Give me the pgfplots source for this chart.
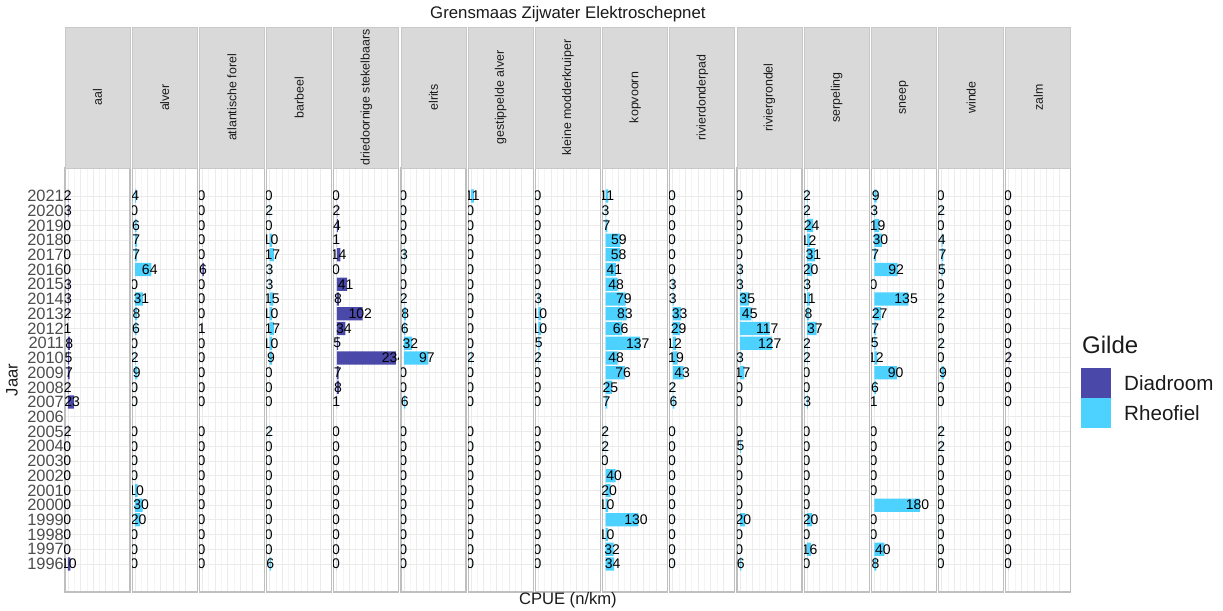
\documentclass[border=0pt]{standalone}
\usepackage{fontspec}
\setmainfont{Liberation Sans}
\usepackage{pgfplots}
\usepackage{pgfplotstable}
\pgfplotsset{compat=1.18}
\usepgfplotslibrary{groupplots}
\usetikzlibrary{calc}
\definecolor{diad}{HTML}{4A48A8}
\definecolor{rheo}{HTML}{4DD2FF}
\definecolor{gmaj}{HTML}{EBEBEB}
\definecolor{gmin}{HTML}{F5F5F5}
\definecolor{pborder}{HTML}{BFBFBF}
\definecolor{stripfill}{HTML}{D9D9D9}
\definecolor{stripline}{HTML}{C8C8C8}
\definecolor{txt}{HTML}{1A1A1A}
\definecolor{ticktxt}{HTML}{4D4D4D}

% CPUE (n/km) per jaar en soort; 2006 ontbreekt
\pgfplotstableread{
year aal alver forel barbeel dried elrits gestip kleine kopvoorn donderpad grondel serpeling sneep winde zalm
2021 2 4 0 0 0 0 11 0 11 0 0 2 9 0 0
2020 3 0 0 2 2 0 0 0 3 0 0 2 3 2 0
2019 0 6 0 0 4 0 0 0 7 0 0 24 19 0 0
2018 0 7 0 10 1 0 0 0 59 0 0 12 30 4 0
2017 0 7 0 17 14 3 0 0 58 0 0 31 7 7 0
2016 0 64 6 3 0 0 0 0 41 0 3 20 92 5 0
2015 3 0 0 3 41 0 0 0 48 3 3 3 0 0 0
2014 3 31 0 15 8 2 0 3 79 3 35 11 135 2 0
2013 2 8 0 10 102 8 0 10 83 33 45 8 27 2 0
2012 1 6 1 17 34 6 0 10 66 29 117 37 7 0 0
2011 8 0 0 10 5 32 0 5 137 12 127 2 5 2 0
2010 5 2 0 9 234 97 2 2 48 19 3 2 12 0 2
2009 7 9 0 0 7 0 0 0 76 43 17 0 90 9 0
2008 2 0 0 0 8 0 0 0 25 2 0 0 6 0 0
2007 23 0 0 0 1 6 0 0 7 6 0 3 1 0 0
2005 2 0 0 2 0 0 0 0 2 0 0 0 0 2 0
2004 0 0 0 0 0 0 0 0 2 0 5 0 0 2 0
2003 0 0 0 0 0 0 0 0 0 0 0 0 0 0 0
2002 0 0 0 0 0 0 0 0 40 0 0 0 0 0 0
2001 0 10 0 0 0 0 0 0 20 0 0 0 0 0 0
2000 0 30 0 0 0 0 0 0 10 0 0 0 180 0 0
1999 0 20 0 0 0 0 0 0 130 0 20 20 0 0 0
1998 0 0 0 0 0 0 0 0 10 0 0 0 0 0 0
1997 0 0 0 0 0 0 0 0 32 0 0 16 40 0 0
1996 10 0 0 6 0 0 0 0 34 0 6 0 8 0 0
}\cpue

% label centred a little left of the bar end (hjust about 0.6)
\newcommand\cpuelabel[1]{\setbox0\hbox{#1}\hspace*{-0.2\wd0}\box0}

\begin{document}
\begin{tikzpicture}
\begin{groupplot}[
  group style={group size=15 by 1, horizontal sep=1.1pt, yticklabels at=edge left},
  scale only axis, width=32.5pt, height=212pt,
  xmin=-11.7, xmax=245.7, ymin=1994.1, ymax=2022.9,
  xtick={0,50,100,150,200}, xticklabels={}, minor x tick num=1,
  ytick={1996,...,2021}, minor y tick num=1,
  grid=both,
  major grid style={draw=gmaj, line width=0.45pt},
  minor grid style={draw=gmin, line width=0.3pt},
  major tick length=0pt, minor tick length=0pt,
  axis line style={draw=pborder, line width=0.6pt},
  /pgf/number format/1000 sep={},
  /pgf/number format/assume math mode=true,
  yticklabel style={font=\fontsize{8.2}{8.2}\selectfont, text=ticktxt, inner xsep=0.4pt},
  xbar, /pgf/bar width=0.9, point meta=x,
  clip marker paths=true,
  nodes near coords={\cpuelabel{\pgfmathprintnumber{\pgfplotspointmeta}}},
  nodes near coords align=center,
  every node near coord/.append style={font=\fontsize{7}{7}\selectfont, text=black,
    anchor=center, inner sep=0pt},
]
\nextgroupplot \addplot[fill=diad, draw=none] table[x=aal, y=year]{\cpue};
\nextgroupplot \addplot[fill=rheo, draw=none] table[x=alver, y=year]{\cpue};
\nextgroupplot \addplot[fill=diad, draw=none] table[x=forel, y=year]{\cpue};
\nextgroupplot \addplot[fill=rheo, draw=none] table[x=barbeel, y=year]{\cpue};
\nextgroupplot \addplot[fill=diad, draw=none] table[x=dried, y=year]{\cpue};
\nextgroupplot \addplot[fill=rheo, draw=none] table[x=elrits, y=year]{\cpue};
\nextgroupplot \addplot[fill=rheo, draw=none] table[x=gestip, y=year]{\cpue};
\nextgroupplot \addplot[fill=rheo, draw=none] table[x=kleine, y=year]{\cpue};
\nextgroupplot \addplot[fill=rheo, draw=none] table[x=kopvoorn, y=year]{\cpue};
\nextgroupplot \addplot[fill=rheo, draw=none] table[x=donderpad, y=year]{\cpue};
\nextgroupplot \addplot[fill=rheo, draw=none] table[x=grondel, y=year]{\cpue};
\nextgroupplot \addplot[fill=rheo, draw=none] table[x=serpeling, y=year]{\cpue};
\nextgroupplot \addplot[fill=rheo, draw=none] table[x=sneep, y=year]{\cpue};
\nextgroupplot \addplot[fill=rheo, draw=none] table[x=winde, y=year]{\cpue};
\nextgroupplot \addplot[fill=diad, draw=none] table[x=zalm, y=year]{\cpue};
\end{groupplot}

% facet strips
\foreach \i/\name in {1/aal,2/alver,3/atlantische forel,4/barbeel,5/driedoornige stekelbaars,
  6/elrits,7/gestippelde alver,8/kleine modderkruiper,9/kopvoorn,10/rivierdonderpad,
  11/riviergrondel,12/serpeling,13/sneep,14/winde,15/zalm}{
  \draw[fill=stripfill, draw=stripline, line width=0.4pt]
    (group c\i r1.north west) rectangle ($(group c\i r1.north east)+(0,70.5pt)$);
  \node[rotate=90, text=txt, font=\fontsize{6.2}{6.2}\selectfont]
    at ($(group c\i r1.north)+(0,35.25pt)$) {\name};
}

\node[text=txt, font=\fontsize{8.4}{8.4}\selectfont]
  at ($(group c8r1.north)+(0,77pt)$) {Grensmaas Zijwater Elektroschepnet};
\node[text=txt, font=\fontsize{8.3}{8.3}\selectfont]
  at ($(group c8r1.south)+(0,-4pt)$) {CPUE (n/km)};
\node[text=txt, rotate=90, font=\fontsize{8.3}{8.3}\selectfont]
  at ($(group c1r1.west)+(-26.5pt,0)$) {Jaar};

% legenda
\node[anchor=west, text=txt, font=\fontsize{12}{12}\selectfont, inner sep=0pt]
  at ($(group c15r1.east)+(5.5pt,17.5pt)$) {Gilde};
\fill[diad] ($(group c15r1.east)+(5pt,6pt)$) rectangle ($(group c15r1.east)+(20pt,-9pt)$);
\fill[rheo] ($(group c15r1.east)+(5pt,-9pt)$) rectangle ($(group c15r1.east)+(20pt,-24pt)$);
\node[anchor=west, text=txt, font=\fontsize{10.3}{10.3}\selectfont, inner sep=0pt]
  at ($(group c15r1.east)+(26.5pt,-1.5pt)$) {Diadroom};
\node[anchor=west, text=txt, font=\fontsize{10.3}{10.3}\selectfont, inner sep=0pt]
  at ($(group c15r1.east)+(26.5pt,-16.5pt)$) {Rheofiel};

\pgfresetboundingbox
\path ($(group c1r1.south west)+(-32.5pt,-9.5pt)$) rectangle ($(group c1r1.south west)+(579pt,296pt)$);
\end{tikzpicture}
\end{document}
